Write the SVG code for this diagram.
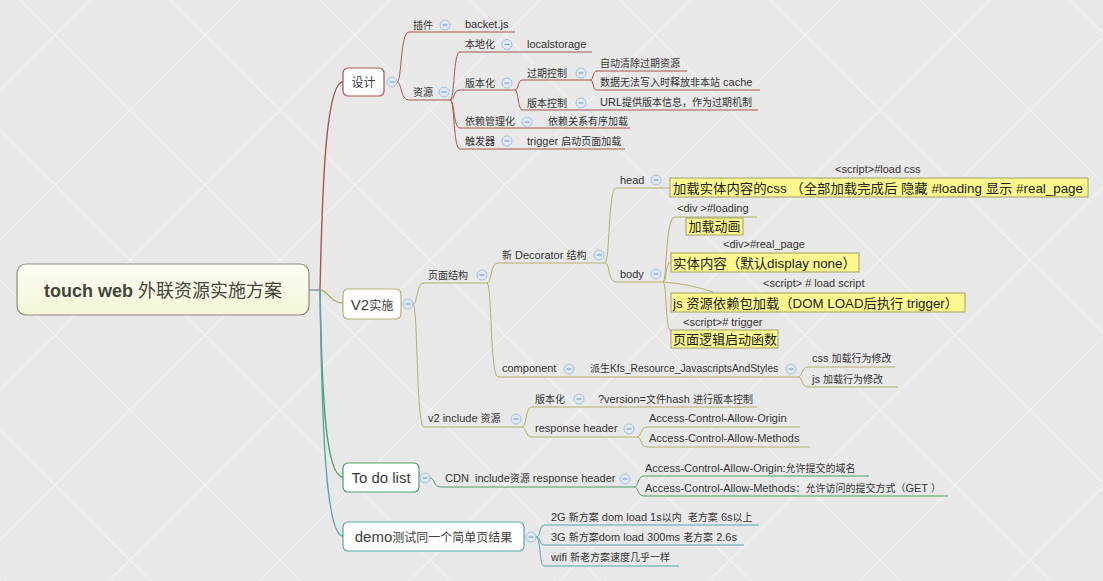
<svg xmlns="http://www.w3.org/2000/svg" width="1103" height="581" viewBox="0 0 1103 581">
<defs>
<pattern id="bg" width="150" height="150" patternUnits="userSpaceOnUse" x="-20" y="-40">
<rect width="150" height="150" fill="#e8e8e8"/>
<path d="M0,0 L150,150 M150,0 L0,150" stroke="#f3f3f3" stroke-width="1.2" fill="none"/>
</pattern>
<linearGradient id="rootg" x1="0" y1="0" x2="0" y2="1">
<stop offset="0" stop-color="#fdfdf4"/>
<stop offset="1" stop-color="#f5f5d8"/>
</linearGradient>
</defs>
<style>
.t{font-family:"Liberation Sans","Noto Sans CJK SC",sans-serif;fill:#333;}
.s{font-size:11px;}
.c{font-size:10px;}
.b{font-size:15px;fill:#3c3c3c;}
.bc{font-size:12px;}
.y{font-size:13px;fill:#222;}
.lr{stroke:#a85450;fill:none;stroke-width:1;}
.lo{stroke:#b3b06a;fill:none;stroke-width:1;}
.lg{stroke:#4e9d6b;fill:none;stroke-width:1;}
.lt{stroke:#55a7a6;fill:none;stroke-width:1;}
.main{stroke-width:1.4;}
.box{fill:#ffffff;stroke-width:1.2;}
.yb{fill:#fcf88e;stroke:#a29e6c;stroke-width:1;}
.btn circle{fill:#dfe8f6;stroke:#a9bfdc;stroke-width:1;}
.btn path{stroke:#7f9fcf;stroke-width:1.2;}
</style>
<rect width="1103" height="581" fill="url(#bg)"/>

<!-- connectors -->
<g id="connectors">
<path d="M309,290 L320,290" stroke="#7f8f9f" stroke-width="1.4" fill="none"/>
<path class="lr main" d="M320,290 C322,200 325,82 343,82"/>
<path class="lo main" d="M320,290 C328,290 330,303 343,303"/>
<path class="lg main" d="M320,290 C322,400 326,477 343,477"/>
<path class="lt main" d="M320,290 C322,430 326,536 343,536"/>
<!-- 设计 -->
<path class="lr" d="M397,82 C402,82 400,32 409,32"/>
<path class="lr" d="M397,82 C402,82 400,100 409,100"/>
<path class="lr" d="M450,100 C455,100 453,52 460,52"/>
<path class="lr" d="M450,100 C455,100 453,90 460,90"/>
<path class="lr" d="M450,100 C455,100 453,128 460,128"/>
<path class="lr" d="M450,100 C455,100 453,149 460,149"/>
<path class="lr" d="M515,90 C519,90 517,80 523,80"/>
<path class="lr" d="M515,90 C519,90 517,110 523,110"/>
<path class="lr" d="M590,80 C594,80 592,71 597,71"/>
<path class="lr" d="M590,80 C594,80 592,90 597,90"/>
<!-- V2 -->
<path class="lo" d="M413,304 C418,304 416,283 424,283"/>
<path class="lo" d="M413,304 C418,304 416,427 424,427"/>
<path class="lo" d="M487,283 C492,283 490,263 498,263"/>
<path class="lo" d="M487,283 C492,283 490,377 498,377"/>
<path class="lo" d="M605,263 C610,263 608,188 616,188"/>
<path class="lo" d="M605,263 C610,263 608,282 616,282"/>
<path class="lo" d="M663,282 C667,282 665,217 675,217"/>
<path class="lo" d="M663,282 C667,282 665,262 671,262"/>
<path class="lo" d="M663,282 Q690,284 713,292"/>
<path class="lo" d="M663,282 C667,282 665,331 671,331"/>
<path class="lo" d="M798,377 C803,377 801,367 808,367"/>
<path class="lo" d="M798,377 C803,377 801,387 808,387"/>
<path class="lo" d="M522,427 C527,427 525,407 532,407"/>
<path class="lo" d="M522,427 C527,427 525,437 532,437"/>
<path class="lo" d="M637,437 C642,437 640,427 647,427"/>
<path class="lo" d="M637,437 C642,437 640,447 647,447"/>
<!-- To do -->
<path class="lg" d="M430,478 C435,478 433,487 441,487"/>
<path class="lg" d="M634,487 C639,487 637,476 644,476"/>
<path class="lg" d="M634,487 C639,487 637,496 644,496"/>
<!-- demo -->
<path class="lt" d="M536,537 C541,537 539,525 544,525"/>
<path class="lt" d="M536,537 C541,537 539,545 544,545"/>
<path class="lt" d="M536,537 C541,537 539,566 544,566"/>
</g>

<!-- root -->
<g id="root">
<rect x="17" y="264" width="292" height="51" rx="9" fill="url(#rootg)" stroke="#8c8c7c" stroke-width="1.2"/>
<text class="t" x="163" y="296.5" text-anchor="middle" style="font-size:18px;fill:#45453c"><tspan font-weight="bold">touch web </tspan><tspan>外联资源实施方案</tspan></text>
</g>

<!-- 设计 branch -->
<g id="n-sheji">
<rect class="box" x="343" y="68" width="41" height="28" rx="5" stroke="#a85450"/>
<text class="t b bc" x="363.5" y="86.5" text-anchor="middle">设计</text>
<g class="btn"><circle cx="392" cy="82" r="5"/><path d="M389.5,82 H394.5"/></g>
</g>
<g id="n-chajian">
<path class="lr" d="M409,32 H458"/>
<text class="t c" x="413" y="28.5">插件</text>
<g class="btn"><circle cx="445" cy="25" r="5"/><path d="M442.5,25 H447.5"/></g>
</g>
<g id="n-backet">
<path class="lr" d="M458,32 H515"/>
<text class="t s" x="465" y="28">backet.js</text>
</g>
<g id="n-ziyuan">
<path class="lr" d="M409,100 H450"/>
<text class="t c" x="413" y="96">资源</text>
<g class="btn"><circle cx="444" cy="92" r="5"/><path d="M441.5,92 H446.5"/></g>
</g>
<g id="n-bendihua">
<path class="lr" d="M460,52 H513"/>
<text class="t c" x="465" y="48">本地化</text>
<g class="btn"><circle cx="507" cy="44.5" r="5"/><path d="M504.5,44.5 H509.5"/></g>
</g>
<g id="n-localstorage">
<path class="lr" d="M513,52 H592"/>
<text class="t s" x="527" y="48">localstorage</text>
</g>
<g id="n-banbenhua">
<path class="lr" d="M460,90 H515"/>
<text class="t c" x="465" y="86.5">版本化</text>
<g class="btn"><circle cx="507" cy="83" r="5"/><path d="M504.5,83 H509.5"/></g>
</g>
<g id="n-guoqi">
<path class="lr" d="M523,80 H590"/>
<text class="t c" x="527" y="76.5">过期控制</text>
<g class="btn"><circle cx="581" cy="73" r="5"/><path d="M578.5,73 H583.5"/></g>
</g>
<g id="n-zidong">
<path class="lr" d="M597,71 H687"/>
<text class="t c" x="600" y="67">自动清除过期资源</text>
</g>
<g id="n-shuju">
<path class="lr" d="M597,90 H760"/>
<text class="t s" x="600" y="86"><tspan class="c">数据无法写入时释放非本站</tspan> cache</text>
</g>
<g id="n-banbenkongzhi">
<path class="lr" d="M523,110 H590"/>
<text class="t c" x="527" y="106.5">版本控制</text>
<g class="btn"><circle cx="581" cy="103" r="5"/><path d="M578.5,103 H583.5"/></g>
</g>
<g id="n-url">
<path class="lr" d="M590,110 H758"/>
<text class="t s" x="600" y="106">URL<tspan class="c">提供版本信息，作为过期机制</tspan></text>
</g>
<g id="n-yilai">
<path class="lr" d="M460,128 H535"/>
<text class="t c" x="465" y="125">依赖管理化</text>
<g class="btn"><circle cx="527" cy="122" r="5"/><path d="M524.5,122 H529.5"/></g>
</g>
<g id="n-yilaiguanxi">
<path class="lr" d="M535,128 H630"/>
<text class="t c" x="548" y="125">依赖关系有序加载</text>
</g>
<g id="n-chufaqi">
<path class="lr" d="M460,149 H515"/>
<text class="t c" x="465" y="145">触发器</text>
<g class="btn"><circle cx="507" cy="141" r="5"/><path d="M504.5,141 H509.5"/></g>
</g>
<g id="n-trigger">
<path class="lr" d="M515,149 H625"/>
<text class="t s" x="527" y="145">trigger <tspan class="c">启动页面加载</tspan></text>
</g>

<!-- V2 branch -->
<g id="n-v2">
<rect class="box" x="343" y="289" width="58" height="30" rx="5" stroke="#b3b06a"/>
<text class="t b" x="372" y="309.5" text-anchor="middle">V2<tspan class="bc">实施</tspan></text>
<g class="btn"><circle cx="408" cy="304" r="5"/><path d="M405.5,304 H410.5"/></g>
</g>
<g id="n-yemian">
<path class="lo" d="M424,283 H487"/>
<text class="t c" x="428" y="278.5">页面结构</text>
<g class="btn"><circle cx="482" cy="275" r="5"/><path d="M479.5,275 H484.5"/></g>
</g>
<g id="n-decorator">
<path class="lo" d="M498,263 H605"/>
<text class="t s" x="502" y="258.5"><tspan class="c">新</tspan> Decorator <tspan class="c">结构</tspan></text>
<g class="btn"><circle cx="599" cy="255" r="5"/><path d="M596.5,255 H601.5"/></g>
</g>
<g id="n-head">
<path class="lo" d="M616,188 H670"/>
<text class="t s" x="620" y="183.5">head</text>
<g class="btn"><circle cx="656" cy="180" r="5"/><path d="M653.5,180 H658.5"/></g>
</g>
<g id="n-loadcss">
<text class="t s" x="835" y="172.5">&lt;script&gt;#load css</text>
<rect class="yb" x="670" y="178" width="418" height="19"/>
<text class="t y" x="673" y="192.5" textLength="410" lengthAdjust="spacingAndGlyphs">加载实体内容的css （全部加载完成后 隐藏 #loading 显示 #real_page</text>
</g>
<g id="n-body">
<path class="lo" d="M616,282 H663"/>
<text class="t s" x="620" y="277.5">body</text>
<g class="btn"><circle cx="656" cy="274" r="5"/><path d="M653.5,274 H658.5"/></g>
</g>
<g id="n-loading">
<path class="lo" d="M675,217 H757"/>
<text class="t s" x="677" y="212">&lt;div &gt;#loading</text>
<rect class="yb" x="686" y="218" width="57" height="17"/>
<text class="t y" x="714.5" y="231" text-anchor="middle">加载动画</text>
</g>
<g id="n-realpage">
<text class="t s" x="723" y="248">&lt;div&gt;#real_page</text>
<rect class="yb" x="671" y="253" width="188" height="19"/>
<text class="t y" x="673" y="267.5" textLength="183" lengthAdjust="spacingAndGlyphs">实体内容（默认display none）</text>
</g>
<g id="n-jsload">
<text class="t s" x="763" y="287">&lt;script&gt; # load script</text>
<rect class="yb" x="671" y="293" width="294" height="19"/>
<text class="t y" x="673" y="307.5" textLength="285" lengthAdjust="spacingAndGlyphs">js 资源依赖包加载（DOM LOAD后执行 trigger）</text>
</g>
<g id="n-triggerfn">
<text class="t s" x="683" y="326">&lt;script&gt;# trigger</text>
<rect class="yb" x="671" y="330" width="107" height="18"/>
<text class="t y" x="673" y="344">页面逻辑启动函数</text>
</g>
<g id="n-component">
<path class="lo" d="M498,377 H575"/>
<text class="t s" x="502" y="372">component</text>
<g class="btn"><circle cx="569" cy="369" r="5"/><path d="M566.5,369 H571.5"/></g>
</g>
<g id="n-kfs">
<path class="lo" d="M575,377 H798"/>
<text class="t s" x="590" y="372"><tspan class="c">派生</tspan><tspan style="font-size:10.3px">Kfs_Resource_JavascriptsAndStyles</tspan></text>
<g class="btn"><circle cx="791" cy="369" r="5"/><path d="M788.5,369 H793.5"/></g>
</g>
<g id="n-css">
<path class="lo" d="M808,367 H895"/>
<text class="t s" x="812" y="362">css <tspan class="c">加载行为修改</tspan></text>
</g>
<g id="n-js">
<path class="lo" d="M808,387 H898"/>
<text class="t s" x="812" y="382.5">js <tspan class="c">加载行为修改</tspan></text>
</g>
<g id="n-v2include">
<path class="lo" d="M424,427 H522"/>
<text class="t s" x="428" y="422">v2 include <tspan class="c">资源</tspan></text>
<g class="btn"><circle cx="516" cy="419" r="5"/><path d="M513.5,419 H518.5"/></g>
</g>
<g id="n-banbenhua2">
<path class="lo" d="M532,407 H593"/>
<text class="t c" x="535" y="402.5">版本化</text>
<g class="btn"><circle cx="579" cy="399" r="5"/><path d="M576.5,399 H581.5"/></g>
</g>
<g id="n-version">
<path class="lo" d="M593,407 H757"/>
<text class="t s" x="598" y="402.5">?version=<tspan class="c">文件</tspan>hash <tspan class="c">进行版本控制</tspan></text>
</g>
<g id="n-resheader">
<path class="lo" d="M532,437 H637"/>
<text class="t s" x="535" y="432">response header</text>
<g class="btn"><circle cx="629" cy="429" r="5"/><path d="M626.5,429 H631.5"/></g>
</g>
<g id="n-acao">
<path class="lo" d="M647,427 H800"/>
<text class="t s" x="649" y="422">Access-Control-Allow-Origin</text>
</g>
<g id="n-acam">
<path class="lo" d="M647,447 H810"/>
<text class="t s" x="649" y="442">Access-Control-Allow-Methods</text>
</g>

<!-- To do list -->
<g id="n-todo">
<rect class="box" x="343" y="463" width="76" height="29" rx="5" stroke="#4e9d6b"/>
<text class="t b" x="381" y="482.5" text-anchor="middle">To do list</text>
<g class="btn"><circle cx="425" cy="478" r="5"/><path d="M422.5,478 H427.5"/></g>
</g>
<g id="n-cdn">
<path class="lg" d="M441,487 H634"/>
<text class="t s" x="445" y="482" xml:space="preserve">CDN  include<tspan class="c">资源</tspan> response header</text>
<g class="btn"><circle cx="625" cy="479" r="5"/><path d="M622.5,479 H627.5"/></g>
</g>
<g id="n-cdn-origin">
<path class="lg" d="M644,476 H869"/>
<text class="t s" x="645" y="471.5">Access-Control-Allow-Origin:<tspan class="c">允许提交的域名</tspan></text>
</g>
<g id="n-cdn-methods">
<path class="lg" d="M644,496 H948"/>
<text class="t s" x="645" y="491.5">Access-Control-Allow-Methods<tspan class="c">：允许访问的提交方式（</tspan>GET <tspan class="c">）</tspan></text>
</g>

<!-- demo -->
<g id="n-demo">
<rect class="box" x="343" y="522" width="181" height="29" rx="5" stroke="#55a7a6"/>
<text class="t b" x="433.5" y="542" text-anchor="middle">demo<tspan class="bc">测试同一个简单页结果</tspan></text>
<g class="btn"><circle cx="531" cy="537" r="5"/><path d="M528.5,537 H533.5"/></g>
</g>
<g id="n-2g">
<path class="lt" d="M544,525 H759"/>
<text class="t s" x="551" y="520.5" xml:space="preserve">2G <tspan class="c">新方案</tspan> dom load 1s<tspan class="c">以内</tspan>  <tspan class="c">老方案</tspan> 6s<tspan class="c">以上</tspan></text>
</g>
<g id="n-3g">
<path class="lt" d="M544,545 H744"/>
<text class="t s" x="551" y="540.5">3G <tspan class="c">新方案</tspan>dom load 300ms <tspan class="c">老方案</tspan> 2.6s</text>
</g>
<g id="n-wifi">
<path class="lt" d="M544,566 H679"/>
<text class="t s" x="551" y="561">wifi <tspan class="c">新老方案速度几乎一样</tspan></text>
</g>
</svg>
